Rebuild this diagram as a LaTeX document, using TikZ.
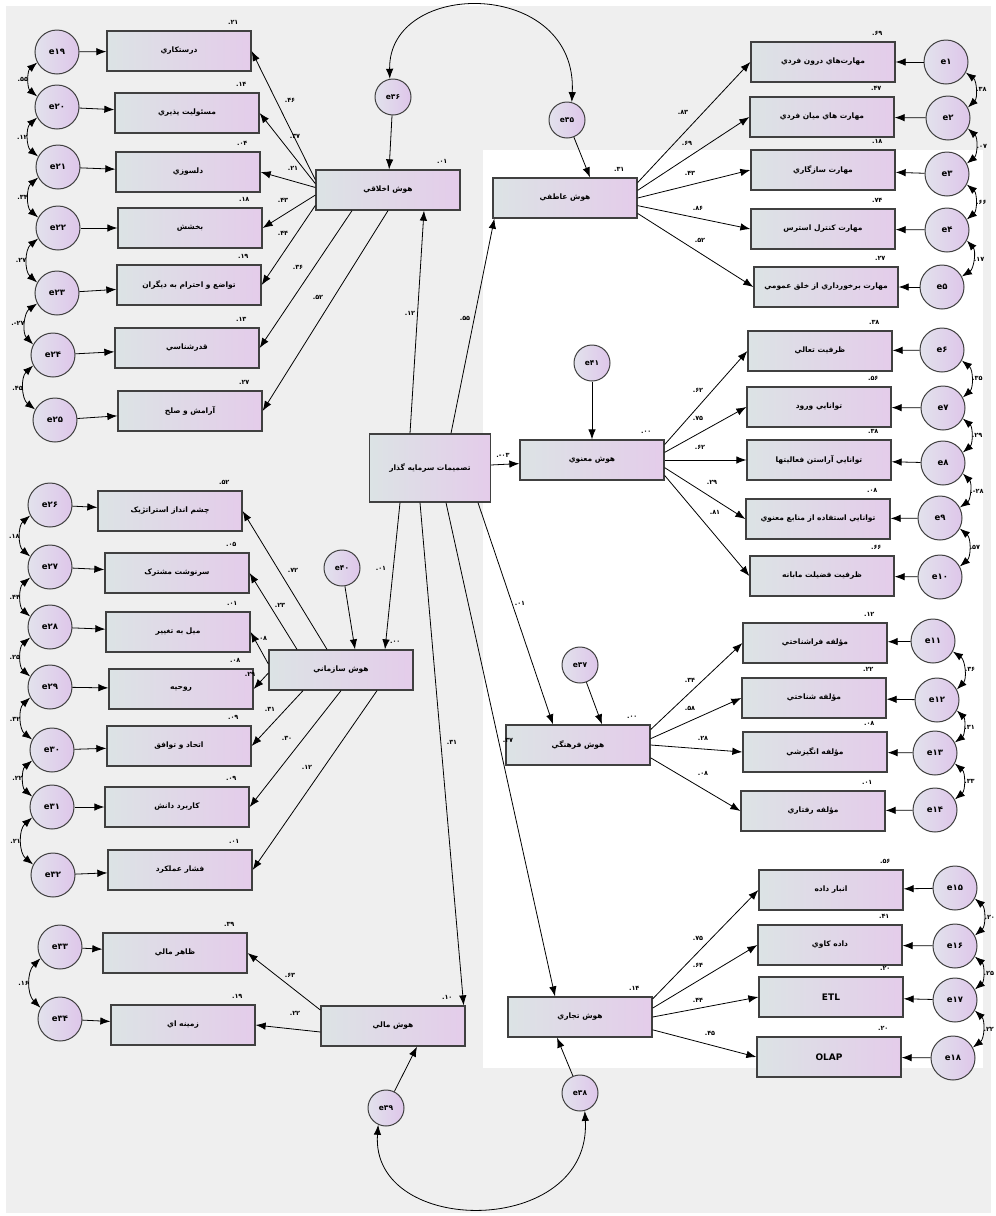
\documentclass[tikz,border=0pt]{standalone}
\usepackage{fontspec}
\usetikzlibrary{arrows.meta}
\newfontfamily\farsi[Script=Arabic]{DejaVu Sans}
\TeXXeTstate=1
\newcommand{\fa}[1]{\beginR #1\endR}
\newcommand{\nv}[1]{\hbox{.}#1}
\newcommand{\nvm}[1]{\hbox{-.}#1}
\definecolor{panel}{HTML}{EFEFEF}
\definecolor{boxL}{HTML}{DCE3E5}
\definecolor{boxR}{HTML}{E4CCEA}
\definecolor{errL}{HTML}{E2E2EC}
\definecolor{errR}{HTML}{DEC6EA}
\tikzset{
  ind/.style = {draw=black!75, line width=1.3pt, left color=boxL, right color=boxR,
                minimum width=144pt, minimum height=40pt, inner sep=1pt,
                font=\farsi\bfseries\fontsize{7.5}{9}\selectfont},
  err/.style = {circle, draw=black!75, line width=1pt, left color=errL, right color=errR,
                minimum size=44pt, inner sep=0pt, font=\farsi\bfseries\fontsize{8.5}{9}\selectfont},
  lerr/.style = {err, minimum size=36pt, font=\farsi\bfseries\fontsize{7.5}{9}\selectfont},
  arr/.style = {-{Latex[length=10pt,width=7.5pt]}, line width=0.8pt},
  covarr/.style = {{Latex[length=10pt,width=7.5pt]}-{Latex[length=10pt,width=7.5pt]}, line width=0.8pt},
  est/.style = {font=\farsi\bfseries\fontsize{6.5}{7}\selectfont, inner sep=1pt},
  r2/.style = {label={[est,anchor=south east,xshift=-12pt,yshift=5pt]north east:#1}}
}

\begin{document}
\begin{tikzpicture}[x=1pt,y=-1pt]
\useasboundingbox (0,0) rectangle (996,1216);
\fill[panel] (6,6) rectangle (991,1213);
\fill[white] (483,150) rectangle (983,1068);

% latent variables
\node[ind,minimum width=121pt,minimum height=68pt] (dec) at (430,468) {\fa{تصميمات سرمايه گذار}};
\node[ind,r2=\nv{۰۱}] (mor) at (388,190) {\fa{هوش اخلاقي}};
\node[ind,r2=\nv{۳۱}] (emo) at (565,198) {\fa{هوش عاطفي}};
\node[ind,r2=\nv{۰۰}] (spi) at (592,460) {\fa{هوش معنوي}};
\node[ind,r2=\nv{۰۰}] (org) at (341,670) {\fa{هوش سازماني}};
\node[ind,r2=\nv{۰۰}] (cul) at (578,745) {\fa{هوش فرهنگي}};
\node[ind,r2=\nv{۱۰}] (fin) at (393,1026) {\fa{هوش مالي}};
\node[ind,r2=\nv{۱۴}] (com) at (580,1017) {\fa{هوش تجاري}};

% residuals of latent variables
\node[lerr] (e35) at (567,120) {e۳۵};
\node[lerr] (e36) at (393,97) {e۳۶};
\node[lerr] (e37) at (580,665) {e۳۷};
\node[lerr] (e38) at (580,1093) {e۳۸};
\node[lerr] (e39) at (386,1108) {e۳۹};
\node[lerr] (e40) at (342,568) {e۴۰};
\node[lerr] (e41) at (592,363) {e۴۱};

% emotional
\node[ind,r2=\nv{۶۹}] (v1) at (823,62) {\fa{مهارت‌هاي درون فردي}};
\node[ind,r2=\nv{۴۷}] (v2) at (822,117) {\fa{مهارت هاي ميان فردي}};
\node[ind,r2=\nv{۱۸}] (v3) at (823,170) {\fa{مهارت سازگاري}};
\node[ind,r2=\nv{۷۴}] (v4) at (823,229) {\fa{مهارت کنترل استرس}};
\node[ind,r2=\nv{۲۷}] (v5) at (826,287) {\fa{مهارت برخورداري از خلق عمومي}};
\node[err] (e1) at (946,62) {e۱};
\node[err] (e2) at (948,118) {e۲};
\node[err] (e3) at (947,174) {e۳};
\node[err] (e4) at (947,230) {e۴};
\node[err] (e5) at (942,287) {e۵};

% spiritual
\node[ind,r2=\nv{۳۸}] (v6) at (820,351) {\fa{ظرفيت تعالي}};
\node[ind,r2=\nv{۵۶}] (v7) at (819,407) {\fa{توانايي ورود}};
\node[ind,r2=\nv{۳۸}] (v8) at (819,460) {\fa{توانايي آراستن فعاليتها}};
\node[ind,r2=\nv{۰۸}] (v9) at (818,519) {\fa{توانايي استفاده از منابع معنوي}};
\node[ind,r2=\nv{۶۶}] (v10) at (822,576) {\fa{ظرفيت فضيلت مابانه}};
\node[err] (e6) at (942,350) {e۶};
\node[err] (e7) at (943,408) {e۷};
\node[err] (e8) at (943,463) {e۸};
\node[err] (e9) at (940,518) {e۹};
\node[err] (e10) at (940,577) {e۱۰};

% cultural
\node[ind,r2=\nv{۱۲}] (v11) at (815,643) {\fa{مؤلفه فراشناختي}};
\node[ind,r2=\nv{۲۲}] (v12) at (814,698) {\fa{مؤلفه شناختي}};
\node[ind,r2=\nv{۰۸}] (v13) at (815,752) {\fa{مؤلفه انگيزشي}};
\node[ind,r2=\nv{۰۱}] (v14) at (813,811) {\fa{مؤلفه رفتاري}};
\node[err] (e11) at (933,641) {e۱۱};
\node[err] (e12) at (937,700) {e۱۲};
\node[err] (e13) at (935,753) {e۱۳};
\node[err] (e14) at (935,810) {e۱۴};

% commercial
\node[ind,r2=\nv{۵۶}] (v15) at (831,890) {\fa{انبار داده}};
\node[ind,r2=\nv{۴۱}] (v16) at (830,945) {\fa{داده کاوي}};
\node[ind,r2=\nv{۲۰},font=\farsi\bfseries\fontsize{9}{10}\selectfont] (v17) at (831,997) {ETL};
\node[ind,r2=\nv{۲۰},font=\farsi\bfseries\fontsize{9}{10}\selectfont] (v18) at (829,1057) {OLAP};
\node[err] (e15) at (955,888) {e۱۵};
\node[err] (e16) at (955,946) {e۱۶};
\node[err] (e17) at (955,1000) {e۱۷};
\node[err] (e18) at (953,1058) {e۱۸};

% moral
\node[ind,r2=\nv{۲۱}] (v19) at (179,51) {\fa{درستکاري}};
\node[ind,r2=\nv{۱۴}] (v20) at (187,113) {\fa{مسئوليت پذيري}};
\node[ind,r2=\nv{۰۴}] (v21) at (188,172) {\fa{دلسوزي}};
\node[ind,r2=\nv{۱۸}] (v22) at (190,228) {\fa{بخشش}};
\node[ind,r2=\nv{۱۹}] (v23) at (189,285) {\fa{تواضع و احترام به ديگران}};
\node[ind,r2=\nv{۱۳}] (v24) at (187,348) {\fa{قدرشناسي}};
\node[ind,r2=\nv{۲۷}] (v25) at (190,411) {\fa{آرامش و صلح}};
\node[err] (e19) at (57,52) {e۱۹};
\node[err] (e20) at (57,107) {e۲۰};
\node[err] (e21) at (58,167) {e۲۱};
\node[err] (e22) at (58,228) {e۲۲};
\node[err] (e23) at (57,293) {e۲۳};
\node[err] (e24) at (53,355) {e۲۴};
\node[err] (e25) at (55,420) {e۲۵};

% organisational
\node[ind,r2=\nv{۵۲}] (v26) at (170,511) {\fa{چشم انداز استراتژيک}};
\node[ind,r2=\nv{۰۵}] (v27) at (177,573) {\fa{سرنوشت مشترک}};
\node[ind,r2=\nv{۰۱}] (v28) at (178,632) {\fa{ميل به تغيير}};
\node[ind,r2=\nv{۰۸}] (v29) at (181,689) {\fa{روحيه}};
\node[ind,r2=\nv{۰۹}] (v30) at (179,746) {\fa{اتحاد و توافق}};
\node[ind,r2=\nv{۰۹}] (v31) at (177,807) {\fa{کاربرد دانش}};
\node[ind,r2=\nv{۰۱}] (v32) at (180,870) {\fa{فشار عملکرد}};
\node[err] (e26) at (50,505) {e۲۶};
\node[err] (e27) at (50,567) {e۲۷};
\node[err] (e28) at (50,627) {e۲۸};
\node[err] (e29) at (50,687) {e۲۹};
\node[err] (e30) at (52,750) {e۳۰};
\node[err] (e31) at (52,807) {e۳۱};
\node[err] (e32) at (53,875) {e۳۲};

% financial
\node[ind,r2=\nv{۳۹}] (v33) at (175,953) {\fa{ظاهر مالي}};
\node[ind,r2=\nv{۱۹}] (v34) at (183,1025) {\fa{زمينه اي}};
\node[err] (e33) at (60,947) {e۳۳};
\node[err] (e34) at (60,1019) {e۳۴};

% structural paths
\draw[arr] ([xshift=-20pt]dec.north) -- ([xshift=36pt]mor.south);
\draw[arr] ([xshift=21pt]dec.north) -- ([xshift=2pt]emo.south west);
\draw[arr] (dec) -- (spi);
\draw[arr] ([xshift=-30pt]dec.south) -- ([xshift=44pt]org.north);
\draw[arr] ([xshift=-10pt]dec.south) -- ([xshift=-2pt]fin.north east);
\draw[arr] ([xshift=16pt]dec.south) -- ([xshift=-25pt]com.north);
\draw[arr] ([xshift=48pt]dec.south) -- ([xshift=-25pt]cul.north);
\node[est] (p1) at (410,313) {\nv{۱۲}};
\node[est] (p2) at (465,318) {\nv{۵۵}};
\node[est] (p3) at (503,455) {\nvm{۰۳}};
\node[est] (p4) at (381,568) {\nv{۰۱}};
\node[est] (p5) at (452,742) {\nv{۳۱}};
\node[est] (p6) at (508,740) {\nv{۳۷}};
\node[est] (p7) at (520,603) {\nv{۰۱}};

\draw[arr] (e36) -- (mor);
\draw[arr] (e35) -- ([xshift=25pt]emo.north);
\draw[arr] (e41) -- (spi);
\draw[arr] (e40) -- ([xshift=14pt]org.north);
\draw[arr] (e37) -- ([xshift=24pt]cul.north);
\draw[arr] (e39) -- ([xshift=24pt]fin.south);
\draw[arr] (e38) -- ([xshift=-23pt]com.south);
\draw[covarr] (e36.100) .. controls (388,-22) and (578,-22) .. (e35.75);
\draw[covarr] (e39.245) .. controls (370,1238) and (592,1238) .. (e38.-75);

% emotional loadings
\draw[arr] (emo.12) -- (v1.west);
\draw[arr] (emo.6) -- (v2.west);
\draw[arr] (emo.0) -- (v3.west);
\draw[arr] (emo.-6) -- (v4.west);
\draw[arr] (emo.-12) -- (v5.west);
\node[est] (w1) at (683,112) {\nv{۸۳}};
\node[est] (w2) at (687,143) {\nv{۶۹}};
\node[est] (w3) at (690,173) {\nv{۴۳}};
\node[est] (w4) at (698,208) {\nv{۸۶}};
\node[est] (w5) at (700,240) {\nv{۵۲}};
\draw[arr] (e1) -- (v1);
\draw[arr] (e2) -- (v2);
\draw[arr] (e3) -- (v3);
\draw[arr] (e4) -- (v4);
\draw[arr] (e5) -- (v5);
\draw[covarr] (e1.-28) to[bend left=50] node[est,right] {\nv{۳۸}} (e2.28);
\draw[covarr] (e2.-28) to[bend left=50] node[est,right] {\nv{۰۷}} (e3.28);
\draw[covarr] (e3.-28) to[bend left=50] node[est,right] {\nv{۶۶}} (e4.28);
\draw[covarr] (e4.-28) to[bend left=50] node[est,right] {\nv{۱۷}} (e5.28);

% spiritual loadings
\draw[arr] (spi.12) -- (v6.west);
\draw[arr] (spi.6) -- (v7.west);
\draw[arr] (spi.0) -- (v8.west);
\draw[arr] (spi.-6) -- (v9.west);
\draw[arr] (spi.-12) -- (v10.west);
\node[est] (w6) at (698,390) {\nv{۶۲}};
\node[est] (w7) at (698,418) {\nv{۷۵}};
\node[est] (w8) at (700,447) {\nv{۶۲}};
\node[est] (w9) at (712,482) {\nv{۲۹}};
\node[est] (w10) at (715,512) {\nv{۸۱}};
\draw[arr] (e6) -- (v6);
\draw[arr] (e7) -- (v7);
\draw[arr] (e8) -- (v8);
\draw[arr] (e9) -- (v9);
\draw[arr] (e10) -- (v10);
\draw[covarr] (e6.-28) to[bend left=50] node[est,right] {\nv{۳۵}} (e7.28);
\draw[covarr] (e7.-28) to[bend left=50] node[est,right] {\nv{۲۹}} (e8.28);
\draw[covarr] (e8.-28) to[bend left=50] node[est,right] {\nvm{۲۸}} (e9.28);
\draw[covarr] (e9.-28) to[bend left=50] node[est,right] {\nv{۵۷}} (e10.28);

% cultural loadings
\draw[arr] (cul.12) -- (v11.west);
\draw[arr] (cul.5) -- (v12.west);
\draw[arr] (cul.0) -- (v13.west);
\draw[arr] (cul.-10) -- (v14.west);
\node[est] (w11) at (690,680) {\nv{۳۴}};
\node[est] (w12) at (690,708) {\nv{۵۸}};
\node[est] (w13) at (703,738) {\nv{۲۸}};
\node[est] (w14) at (703,773) {\nv{۰۸}};
\draw[arr] (e11) -- (v11);
\draw[arr] (e12) -- (v12);
\draw[arr] (e13) -- (v13);
\draw[arr] (e14) -- (v14);
\draw[covarr] (e11.-28) to[bend left=50] node[est,right] {\nv{۳۶}} (e12.28);
\draw[covarr] (e12.-28) to[bend left=50] node[est,right] {\nv{۳۱}} (e13.28);
\draw[covarr] (e13.-28) to[bend left=50] node[est,right] {\nv{۳۳}} (e14.28);

% commercial loadings
\draw[arr] (com.14) -- (v15.west);
\draw[arr] (com.7) -- (v16.west);
\draw[arr] (com.0) -- (v17.west);
\draw[arr] (com.-10) -- (v18.west);
\node[est] (w15) at (698,938) {\nv{۷۵}};
\node[est] (w16) at (698,965) {\nv{۶۴}};
\node[est] (w17) at (698,1000) {\nv{۴۴}};
\node[est] (w18) at (710,1033) {\nv{۴۵}};
\draw[arr] (e15) -- (v15);
\draw[arr] (e16) -- (v16);
\draw[arr] (e17) -- (v17);
\draw[arr] (e18) -- (v18);
\draw[covarr] (e15.-28) to[bend left=50] node[est,right] {\nv{۲۰}} (e16.28);
\draw[covarr] (e16.-28) to[bend left=50] node[est,right] {\nv{۲۵}} (e17.28);
\draw[covarr] (e17.-28) to[bend left=50] node[est,right] {\nv{۲۲}} (e18.28);

% moral loadings
\draw[arr] (mor.172) -- (v19.east);
\draw[arr] (mor.175) -- (v20.east);
\draw[arr] (mor.178) -- (v21.east);
\draw[arr] (mor.184) -- (v22.east);
\draw[arr] (mor.192) -- (v23.east);
\draw[arr] ([xshift=-36pt]mor.south) -- (v24.east);
\draw[arr] (mor.south) -- (v25.east);
\node[est] (w19) at (290,100) {\nv{۴۶}};
\node[est] (w20) at (295,136) {\nv{۳۷}};
\node[est] (w21) at (293,168) {\nv{۲۱}};
\node[est] (w22) at (283,200) {\nv{۴۳}};
\node[est] (w23) at (283,233) {\nv{۴۴}};
\node[est] (w24) at (298,267) {\nv{۳۶}};
\node[est] (w25) at (318,297) {\nv{۵۲}};
\draw[arr] (e19) -- (v19);
\draw[arr] (e20) -- (v20);
\draw[arr] (e21) -- (v21);
\draw[arr] (e22) -- (v22);
\draw[arr] (e23) -- (v23);
\draw[arr] (e24) -- (v24);
\draw[arr] (e25) -- (v25);
\draw[covarr] (e19.208) to[bend right=50] node[est,left] {\nv{۵۵}} (e20.152);
\draw[covarr] (e20.208) to[bend right=50] node[est,left] {\nv{۱۲}} (e21.152);
\draw[covarr] (e21.208) to[bend right=50] node[est,left] {\nv{۳۴}} (e22.152);
\draw[covarr] (e22.208) to[bend right=50] node[est,left] {\nv{۲۷}} (e23.152);
\draw[covarr] (e23.208) to[bend right=50] node[est,left] {\nvm{۲۷}} (e24.152);
\draw[covarr] (e24.208) to[bend right=50] node[est,left] {\nv{۴۵}} (e25.152);

% organisational loadings
\draw[arr] ([xshift=-14pt]org.north) -- (v26.east);
\draw[arr] ([xshift=-44pt]org.north) -- (v27.east);
\draw[arr] ([yshift=6pt]org.west) -- (v28.east);
\draw[arr] ([yshift=-3pt]org.west) -- (v29.east);
\draw[arr] ([xshift=-38pt]org.south) -- (v30.east);
\draw[arr] (org.south) -- (v31.east);
\draw[arr] ([xshift=36pt]org.south) -- (v32.east);
\node[est] (w26) at (293,570) {\nv{۷۲}};
\node[est] (w27) at (280,605) {\nv{۲۳}};
\node[est] (w28) at (262,638) {\nv{۰۸}};
\node[est] (w29) at (250,674) {\nv{۲۹}};
\node[est] (w30) at (270,709) {\nv{۳۱}};
\node[est] (w31) at (287,738) {\nv{۳۰}};
\node[est] (w32) at (307,767) {\nv{۱۲}};
\draw[arr] (e26) -- (v26);
\draw[arr] (e27) -- (v27);
\draw[arr] (e28) -- (v28);
\draw[arr] (e29) -- (v29);
\draw[arr] (e30) -- (v30);
\draw[arr] (e31) -- (v31);
\draw[arr] (e32) -- (v32);
\draw[covarr] (e26.208) to[bend right=50] node[est,left] {\nv{۱۸}} (e27.152);
\draw[covarr] (e27.208) to[bend right=50] node[est,left] {\nv{۴۴}} (e28.152);
\draw[covarr] (e28.208) to[bend right=50] node[est,left] {\nv{۲۵}} (e29.152);
\draw[covarr] (e29.208) to[bend right=50] node[est,left] {\nv{۳۲}} (e30.152);
\draw[covarr] (e30.208) to[bend right=50] node[est,left] {\nv{۲۲}} (e31.152);
\draw[covarr] (e31.208) to[bend right=50] node[est,left] {\nv{۲۱}} (e32.152);

% financial loadings
\draw[arr] ([yshift=16pt]fin.west) -- (v33.east);
\draw[arr] ([yshift=-6pt]fin.west) -- (v34.east);
\node[est] (w33) at (290,975) {\nv{۶۳}};
\node[est] (w34) at (295,1013) {\nv{۲۲}};
\draw[arr] (e33) -- (v33);
\draw[arr] (e34) -- (v34);
\draw[covarr] (e33.210) to[bend right=45] node[est,left] {\nv{۱۶}} (e34.150);
\end{tikzpicture}
\end{document}
